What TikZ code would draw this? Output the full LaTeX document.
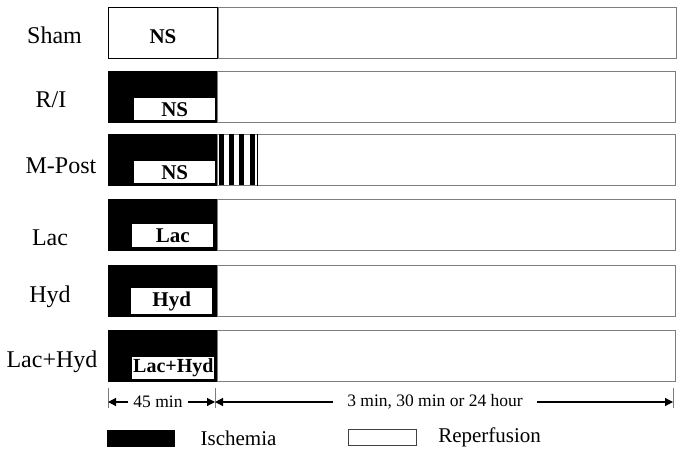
\documentclass[tikz,border=0pt]{standalone}
\usepackage{fontspec}
\setmainfont{Liberation Serif}
\usepackage{tikz}
\usetikzlibrary{arrows.meta,positioning}
\definecolor{barline}{RGB}{125,125,125}

\begin{document}
\begin{tikzpicture}[
    x=1pt, y=-1pt,
    grp/.style={anchor=base, inner sep=0pt, font=\fontsize{24}{28}\selectfont},
    isch/.style={fill=black, draw=black, anchor=north west, minimum width=109pt, minimum height=51pt, inner sep=0pt},
    shambox/.style={isch, fill=white, line width=0.9pt},
    reper/.style={draw=barline, line width=0.9pt, anchor=north west, minimum width=458pt, minimum height=51pt, inner sep=0pt},
    drug/.style={fill=white, minimum width=81pt, minimum height=22pt, inner xsep=2pt, inner ysep=1pt, font=\fontsize{21}{24}\selectfont\bfseries},
    axis/.style={inner ysep=0pt, font=\fontsize{17.5}{20}\selectfont},
    tick/.style={barline, line width=0.9pt},
    arr/.style={-{Triangle[length=8pt,width=8pt]}, line width=1.2pt},
    legtxt/.style={inner sep=0pt, font=\fontsize{21}{25}\selectfont}
]
\path[fill=white, use as bounding box] (0,0) rectangle (685,456);

\node[shambox] (r0) at (108,7) {};
\node[reper] (r0r) at (r0.north east) {};
\node[drug, fill=none] (d0) at ([yshift=-3.5pt]r0.center) {NS};

\node[isch] (r1) at (108,71) {};
\node[reper] (r1r) at (r1.north east) {};
\node[drug, above left=2pt and 2pt of r1.south east] (d1) {NS};

\node[isch] (r2) at (108,134) {};
\node[reper] (r2r) at (r2.north east) {};
\node[drug, above left=2pt and 2pt of r2.south east] (d2) {NS};
\fill ([xshift=2pt]r2r.north west) rectangle +(5,51);
\fill ([xshift=12pt]r2r.north west) rectangle +(5,51);
\fill ([xshift=22pt]r2r.north west) rectangle +(5,51);
\fill ([xshift=33pt]r2r.north west) rectangle +(5,51);
\draw[line width=0.9pt] ([xshift=40pt]r2r.north west) -- ([xshift=40pt]r2r.south west);

\node[isch] (r3) at (108,199) {};
\node[reper] (r3r) at (r3.north east) {};
\node[drug, minimum height=23pt, above left=3pt and 4pt of r3.south east] (d3) {Lac};

\node[isch] (r4) at (108,265) {};
\node[reper] (r4r) at (r4.north east) {};
\node[drug, minimum height=26pt, above left=2pt and 5pt of r4.south east] (d4) {Hyd};

\node[isch] (r5) at (108,330) {};
\node[reper] (r5r) at (r5.north east) {};
\node[drug, minimum width=0pt, inner xsep=1pt, font=\fontsize{20}{24}\selectfont\bfseries, above right=2pt and 24pt of r5.south west] (d5) {Lac+Hyd};

\node[grp] (g0) at (54.5,43) {Sham};
\node[grp] (g1) at (51,107) {R/I};
\node[grp] (g2) at (61,173) {M-Post};
\node[grp] (g3) at (50,245) {Lac};
\node[grp] (g4) at (50,302) {Hyd};
\node[grp] (g5) at (52,367) {Lac+Hyd};

\coordinate (tA) at (108,402);
\coordinate (tB) at (215,402);
\coordinate (tC) at (673,402);
\draw[tick] ([yshift=14pt]tA) -- ([yshift=-6pt]tA);
\draw[tick] ([yshift=14pt]tB) -- ([yshift=-6pt]tB);
\draw[tick] ([yshift=14pt]tC) -- ([yshift=-6pt]tC);

\node[axis, inner xsep=5pt] (t45) at (158,402) {45 min};
\node[axis, inner xsep=14pt] (t24) at (435,402) {3 min, 30 min or 24 hour};
\draw[arr] (t45) -- (tA);
\draw[arr] (t45) -- (tB);
\draw[arr] (t24) -- (tB);
\draw[arr] (t24) -- (tC);

\node[fill=black, anchor=north west, minimum width=68pt, minimum height=17pt, inner sep=0pt] (li) at (107,430) {};
\node[legtxt, right=25pt of li] (lit) {Ischemia};
\node[draw=black!75, line width=1.1pt, anchor=north west, minimum width=68pt, minimum height=16pt, inner sep=0pt] (lr) at (348,429) {};
\node[legtxt, right=21pt of lr] (lrt) {Reperfusion};
\end{tikzpicture}
\end{document}
